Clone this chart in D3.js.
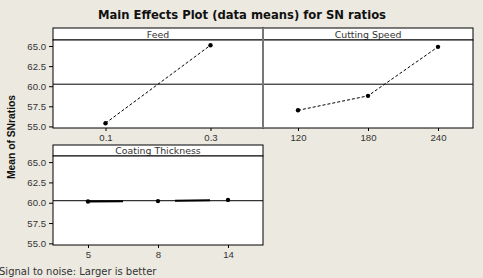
<!DOCTYPE html>
<html>
<head>
<meta charset="utf-8">
<script src="https://cdn.jsdelivr.net/npm/d3@7"></script>
<style>
  body { margin: 0; background: #ece9e0; }
  svg { display: block; font-family: "DejaVu Sans", Verdana, sans-serif; }
</style>
</head>
<body>
<svg id="chart"></svg>
<script>
// main effects data (SN ratios)
const feedLevels = ["0.1", "0.3"];
const feedSN = [55.4, 65.1];
const speedLevels = ["120", "180", "240"];
const speedSN = [57.0, 58.8, 64.9];
const coatLevels = ["5", "8", "14"];
const coatSN = [60.15, 60.2, 60.35];
const yTicks = [55, 57.5, 60, 62.5, 65];

const factors = [
    { name: "Feed", levels: feedLevels, values: feedSN, row: 0, col: 0, dash: "3,2", width: 1 },
    { name: "Cutting Speed", levels: speedLevels, values: speedSN, row: 0, col: 1, dash: "3,2", width: 1 },
    { name: "Coating Thickness", levels: coatLevels, values: coatSN, row: 1, col: 0, dash: "35,52", width: 2 }
];

const W = 483, H = 278;
const svg = d3.select("#chart").attr("width", W).attr("height", H);

// grand mean for the reference line
const grandMean = d3.mean(feedSN);

// panel layout
const colX = [53, 263];
const panelW = 210;
const rows = [
    { stripTop: 28, top: 40, bottom: 128 },
    { stripTop: 145, top: 156, bottom: 245 }
];
const yDomain = [54.8, 65.75];

svg.append("text")
    .attr("x", 242).attr("y", 19)
    .attr("text-anchor", "middle")
    .attr("font-weight", "bold")
    .attr("font-size", "11.6px")
    .attr("fill", "#111")
    .text("Main Effects Plot (data means) for SN ratios");

factors.forEach(function(f) {
    let r = rows[f.row];
    let x0 = colX[f.col];
    let g = svg.append("g");

    let x = d3.scalePoint()
        .domain(f.levels)
        .range([x0, x0 + panelW])
        .padding(0.5);
    let y = d3.scaleLinear()
        .domain(yDomain)
        .range([r.bottom, r.top]);

    // strip header
    g.append("rect")
        .attr("x", x0).attr("y", r.stripTop)
        .attr("width", panelW).attr("height", r.top - r.stripTop)
        .attr("fill", "white").attr("stroke", "black");
    g.append("text")
        .attr("x", x0 + panelW / 2).attr("y", r.top - 2.5)
        .attr("text-anchor", "middle")
        .attr("font-size", "9.4px")
        .attr("fill", "#333")
        .text(f.name);

    // plot box
    g.append("rect")
        .attr("x", x0).attr("y", r.top)
        .attr("width", panelW).attr("height", r.bottom - r.top)
        .attr("fill", "white").attr("stroke", "black");

    // reference line at grand mean
    g.append("line")
        .attr("x1", x0).attr("x2", x0 + panelW)
        .attr("y1", y(grandMean)).attr("y2", y(grandMean))
        .attr("stroke", "black");

    // x axis
    let xAxis = g.append("g")
        .attr("transform", `translate(0,${r.bottom})`)
        .call(d3.axisBottom(x).tickSize(3).tickPadding(3));
    xAxis.select(".domain").remove();
    xAxis.selectAll("text").attr("font-size", "9.6px").attr("fill", "#333").attr("font-family", null);

    // y axis on left column only
    if (f.col === 0) {
        let yAxis = g.append("g")
            .attr("transform", `translate(${x0},0)`)
            .call(d3.axisLeft(y).tickValues(yTicks).tickFormat(d3.format(".1f")).tickSize(4).tickPadding(3));
        yAxis.select(".domain").remove();
        yAxis.selectAll("text").attr("font-size", "9.6px").attr("fill", "#333").attr("font-family", null);
    }

    // connecting line
    let pts = f.levels.map(function(l, i) { return [x(l), y(f.values[i])]; });
    g.append("path")
        .attr("d", d3.line()(pts))
        .attr("fill", "none")
        .attr("stroke", "black")
        .attr("stroke-width", f.width)
        .attr("stroke-dasharray", f.dash);

    g.selectAll("circle")
        .data(pts)
        .join("circle")
        .attr("cx", function(d) { return d[0]; })
        .attr("cy", function(d) { return d[1]; })
        .attr("r", 2.2)
        .attr("fill", "black");
});

// divider between the two top panels
svg.append("line")
    .attr("x1", 263).attr("x2", 263)
    .attr("y1", 28).attr("y2", 128)
    .attr("stroke", "#777").attr("stroke-width", 2);

// y label
svg.append("text")
    .attr("transform", "translate(15,137) rotate(-90)")
    .attr("text-anchor", "middle")
    .attr("font-family", "'Liberation Sans', Arial, sans-serif")
    .attr("font-weight", "bold")
    .attr("font-size", "10.3px")
    .attr("fill", "#111")
    .text("Mean of SNratios");

svg.append("text")
    .attr("x", -1).attr("y", 275)
    .attr("font-size", "10px")
    .attr("fill", "#333")
    .text("Signal to noise: Larger is better");
</script>
</body>
</html>
